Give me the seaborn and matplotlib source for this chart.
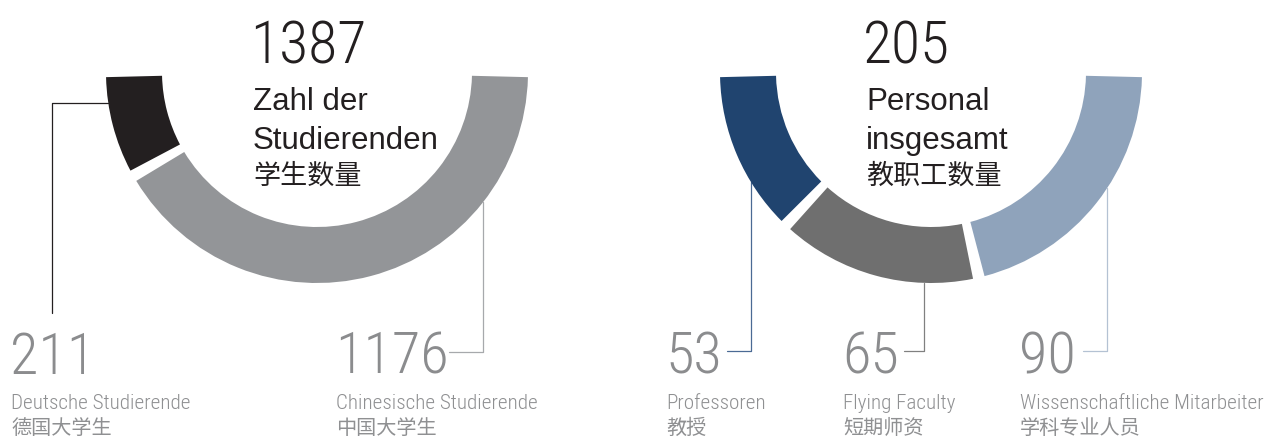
import numpy as np
import pandas as pd
import seaborn as sns
import matplotlib.pyplot as plt
from matplotlib.patches import Wedge


# -----------------------------
# DATA
# -----------------------------
student_total = 1387
student_title = ["Zahl der", "Studierenden", "学生数量"]
student_values = [211, 1176]
student_labels_de = ["Deutsche Studierende", "Chinesische Studierende"]
student_labels_zh = ["德国大学生", "中国大学生"]

staff_total = 205
staff_title = ["Personal", "insgesamt", "教职工数量"]
staff_values = [53, 65, 90]
staff_labels_de = ["Professoren", "Flying Faculty", "Wissenschaftliche Mitarbeiter"]
staff_labels_zh = ["教授", "短期师资", "学科专业人员"]

student_colors = ["#231f20", "#939598"]
student_line_colors = ["#231f20", "#a7a9ac"]
staff_colors = ["#20446f", "#6f6f6f", "#8fa3bb"]
staff_line_colors = ["#4a6a94", "#808080", "#b4c2d3"]


# -----------------------------
# STYLE
# -----------------------------
sns.set_theme(style="white")
NARROW = ["Roboto Condensed", "Liberation Sans Narrow", "DejaVu Sans"]
SANS = ["Liberation Sans", "DejaVu Sans"]
CJK = ["Noto Sans CJK SC", "DejaVu Sans"]
plt.rcParams["font.family"] = SANS

DARK = "#231f20"
GREY_NUM = "#8b8c8e"
GREY_TXT = "#8f9092"

R_OUT, R_IN = 211, 155
START, END, GAP = 1.4, 178.6, 3.2   # degrees below horizontal, measured from the left


def arcs(values):
    df = pd.DataFrame({"value": values})
    usable = (END - START) - GAP * (len(values) - 1)
    df["span"] = usable * df["value"] / df["value"].sum()
    df["a0"] = START + df["span"].cumsum().shift(fill_value=0) + GAP * np.arange(len(values))
    df["a1"] = df["a0"] + df["span"]
    return df


def ring_y(cx, cy, x):
    return cy + np.sqrt(R_OUT ** 2 - (x - cx) ** 2)


def ring_x_left(cx, cy, y):
    return cx - np.sqrt(R_OUT ** 2 - (y - cy) ** 2)


def donut(ax, cx, cy, values, colors):
    df = arcs(values)
    for (_, row), c in zip(df.iterrows(), colors):
        ax.add_patch(Wedge((cx, cy), R_OUT, 180 - row["a1"], 180 - row["a0"],
                           width=R_OUT - R_IN, facecolor=c, edgecolor="none", zorder=2))


def narrow(ax, x, y, s, size, color):
    return ax.text(x, y, s, fontsize=size, family=NARROW, fontstretch="condensed",
                   fontweight="light", color=color, va="baseline")


def title_block(ax, x, total, lines):
    narrow(ax, x - 3, 64, str(total), 43, DARK)
    ax.text(x, 110, lines[0], fontsize=22.5, family=SANS, color=DARK, va="baseline")
    ax.text(x, 149, lines[1], fontsize=22.5, family=SANS, color=DARK, va="baseline")
    ax.text(x, 184, lines[2], fontsize=19.5, family=CJK, color=DARK, va="baseline")


def label_block(ax, x, value, de, zh):
    narrow(ax, x, 374, str(value), 42, GREY_NUM)
    narrow(ax, x + 1, 409, de, 15.2, GREY_TXT)
    ax.text(x + 1, 434, zh, fontsize=14.5, family=CJK, color=GREY_TXT, va="baseline")


# -----------------------------
# PLOT SETUP
# -----------------------------
fig = plt.figure(figsize=(12.66, 4.38), dpi=100)
ax = fig.add_axes([0, 0, 1, 1])
ax.set_xlim(0, 1266)
ax.set_ylim(438, 0)
ax.set_axis_off()

# left: students
cx1, cy = 317, 72
donut(ax, cx1, cy, student_values, student_colors)
title_block(ax, 253, student_total, student_title)

label_x = [10, 335]
for i, (v, de, zh) in enumerate(zip(student_values, student_labels_de, student_labels_zh)):
    label_block(ax, label_x[i], v, de, zh)

# leader 211: from ring edge left, then down
ax.plot([ring_x_left(cx1, cy, 103), 52, 52], [103, 103, 313],
        color=student_line_colors[0], lw=0.9, zorder=1)
# leader 1176: down from ring, then left
ax.plot([483, 483, 449], [ring_y(cx1, cy, 483), 352, 352],
        color=student_line_colors[1], lw=0.9, zorder=1)

# right: staff
cx2 = 931
donut(ax, cx2, cy, staff_values, staff_colors)
title_block(ax, 866, staff_total, staff_title)

label_x = [665, 842, 1019]
line_x = [751, 924, 1107]
line_end = [727, 904, 1083]
for i, (v, de, zh) in enumerate(zip(staff_values, staff_labels_de, staff_labels_zh)):
    label_block(ax, label_x[i], v, de, zh)
    ax.plot([line_x[i], line_x[i], line_end[i]], [ring_y(cx2, cy, line_x[i]), 351, 351],
            color=staff_line_colors[i], lw=0.9, zorder=1)

fig.savefig("out.png", dpi=100)
